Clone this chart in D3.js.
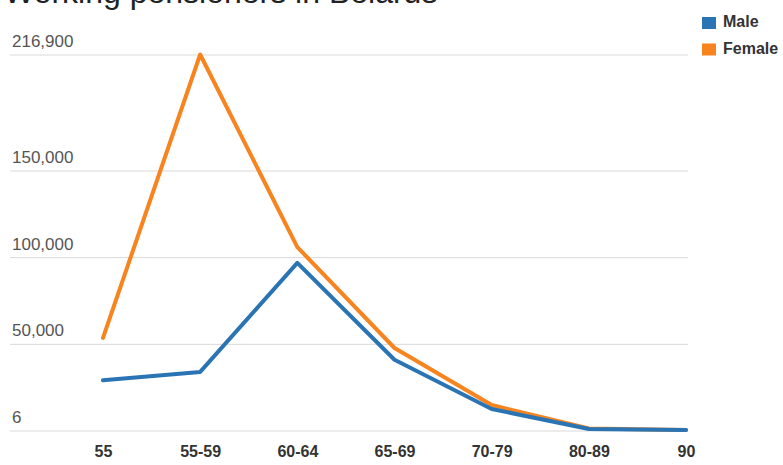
<!DOCTYPE html>
<html>
<head>
<meta charset="utf-8">
<script src="https://cdn.jsdelivr.net/npm/d3@7"></script>
<style>
  html, body { margin: 0; padding: 0; background: #fff; }
  svg { display: block; font-family: Arial, "Liberation Sans", sans-serif; }
</style>
</head>
<body>
<svg id="chart" width="783" height="465"></svg>
<script>
// Working pensioners in Belarus, by age group
const ageGroups = ["55", "55-59", "60-64", "65-69", "70-79", "80-89", "90"];
const maleValues = [29000, 33800, 96700, 40800, 12400, 900, 300];
const femaleValues = [53400, 216900, 105800, 47600, 14700, 1200, 300];
const yTickValues = [6, 50000, 100000, 150000, 216900];
const seriesNames = ["Male", "Female"];
const seriesColors = ["#2a74b4", "#f7841f"];

const svg = d3.select("#chart");

const x = d3.scalePoint().domain(ageGroups).range([103, 686]);
const y = d3.scaleLinear().domain([6, 216900]).range([430.5, 54.5]);

// title
svg.append("text")
  .attr("x", 4).attr("y", 3)
  .attr("font-size", 32)
  .attr("fill", "#222")
  .text("Working pensioners in Belarus");

// horizontal gridlines with labels sitting above them
const yAxis = d3.axisLeft(y)
  .tickValues(yTickValues)
  .tickSize(-678)
  .tickFormat(d3.format(","));
const gy = svg.append("g").attr("transform", "translate(10,0)").call(yAxis);
gy.select(".domain").remove();
gy.selectAll(".tick line").attr("stroke", "#d9d9d9").attr("stroke-width", 1);
gy.selectAll(".tick text")
  .attr("x", 2).attr("dy", -8)
  .attr("text-anchor", "start")
  .attr("font-size", 17)
  .attr("font-family", "Arial, 'Liberation Sans', sans-serif")
  .attr("fill", "#555");

// x-axis category labels
const xAxis = d3.axisBottom(x).tickSize(0).tickPadding(0);
const gx = svg.append("g").attr("transform", "translate(0,457)").call(xAxis);
gx.select(".domain").remove();
gx.selectAll(".tick text")
  .attr("dy", 0).attr("y", 0)
  .attr("font-size", 16)
  .attr("font-weight", "bold")
  .attr("font-family", "Arial, 'Liberation Sans', sans-serif")
  .attr("fill", "#333");

// series lines
const line = d3.line().x((d, i) => x(ageGroups[i])).y(d => y(d));
const series = [maleValues, femaleValues];
// female drawn first so male sits on top where they overlap
[1, 0].forEach(k => {
  svg.append("path")
    .datum(series[k])
    .attr("d", line)
    .attr("fill", "none")
    .attr("stroke", seriesColors[k])
    .attr("stroke-width", 4)
    .attr("stroke-linejoin", "round")
    .attr("stroke-linecap", "round");
});

// legend
const legend = svg.append("g").attr("transform", "translate(702,17)");
seriesNames.forEach((name, i) => {
  const g = legend.append("g").attr("transform", `translate(0,${i * 26.5})`);
  g.append("rect").attr("width", 14).attr("height", 12).attr("fill", seriesColors[i]);
  g.append("text")
    .attr("x", 21).attr("y", 10)
    .attr("font-size", 16)
    .attr("font-weight", "bold")
    .attr("fill", "#333")
    .text(name);
});
</script>
</body>
</html>
